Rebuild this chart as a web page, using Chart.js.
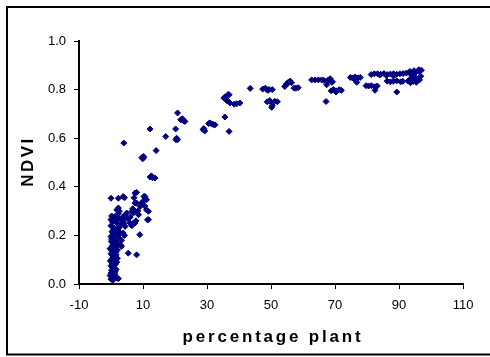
<!DOCTYPE html>
<html>
<head>
<meta charset="utf-8">
<script src="https://cdn.jsdelivr.net/npm/chart.js@4/dist/chart.umd.min.js"></script>
<style>
  html, body { margin: 0; padding: 0; background: #fff; }
  #wrap { width: 490px; height: 357px; }
</style>
</head>
<body>
<div id="wrap"><canvas id="ndviChart" width="490" height="357"></canvas></div>
<script>
// plant cover (%) against NDVI, one entry per sample
var plantPct = [
    0, 0.3, 0.6, 0, 0.4, 0, 0.5, 0.2, 0.6, 0, 0.4, 0.8, 0.1, 0.5, 0.9, 0.2, 0.7, 0, 1.2, 0.3, 0.8, 0, 0.5, 0, 1, 1.5, 0,
    -0.3, 0.2, -0.2, 0.3, -0.3, 0.1, 0.6, 1.0, 0.9, 0.4, 1.3, 0.2,
    1.8, 2.3, 1.2, 1.6, 1.3, 1.8, 1.1, 1.5, 2.0, 1.7, 2.2, 1.4, 2.5, 1.9, 2.8, 2.2, 3.3, 3.0, 2.6, 3.3, 1.9, 2.7, 1.25, 2.3, 1.8, 2.3, 2.6, 2.3, 3.8, 4.2,
    1.6, 2.0, 2.4, 1.3, 3.6, 4.0,
    3.3, 3.8, 4.4, 4.0, 4.9, 5.2, 5.9, 6.5, 7.5, 7.0, 6.5, 7.8, 3.8, 4.2, 3.3, 5.4, 8.0, 9.0, 7.0, 7.5, 7.5, 8.0, 7.2, 8.0, 6.8, 8.4, 8.6, 9.1, 9.6, 10.6,
    10.3, 10.8, 11.1, 10.6, 11.1, 11.7, 11.4, 11.7, 4.0, 6.0, 7.4, 10.0,
    9.6, 10.2, 9.9, 10.2, 12.2, 12.6, 13.0, 13.75, 12.2, 14.1, 17.1, 20.2, 20.3, 20.8, 20.5, 20.8, 21.8, 22.3, 23.1, 22.6,
    28.8, 29.3, 29.0, 30.5, 31.0, 31.5, 32.0, 32.5, 35.6, 36.9,
    35.3, 35.6, 36.0, 36.9, 36.6, 36.7, 37.2, 38.5, 39.3, 40.3, 36.2, 43.5,
    47.4, 48.2, 48.6, 49.4, 50.4, 49.0,
    48.8, 49.6, 50.2, 51.2, 52.0, 50.4, 50.2,
    54.3, 54.7, 55.4, 56.0, 55.0, 56.4, 57.2, 57.8, 58.5,
    62.7, 63.75, 64.8, 65.8, 66.5, 67.4, 67.9, 68.5, 69.0, 67.4, 69.2,
    68.8, 69.5, 70.3, 71.3, 72.0, 70.3, 67.2,
    74.8, 75.5, 76.25, 77.2, 77.9, 76.8, 76.3,
    79.7, 80.5, 81.4, 82.5, 83.2, 82.5,
    81.3, 82.3, 83.3, 84.3, 85.3, 86.3, 87.3, 88.3, 89.3, 90.3, 91.3, 92.3, 93.3, 94.3, 95.3, 96.3, 97.0, 96.2, 93.4, 94.7, 84, 86, 88.3,
    86.3, 87.3, 88.2, 89.3, 90.5, 91.2, 89.3,
    92.8, 93.6, 94.5, 95.4, 96.4, 93.6, 95.2, 96.8, 94.2
];
var ndvi = [
    0.02, 0.03, 0.015, 0.045, 0.06, 0.075, 0.085, 0.10, 0.11, 0.125, 0.135, 0.14, 0.15, 0.16, 0.17, 0.185, 0.19, 0.195, 0.2, 0.215, 0.225, 0.24, 0.255, 0.265, 0.27, 0.26, 0.353,
    0.035, 0.055, 0.095, 0.12, 0.145, 0.175, 0.205, 0.23, 0.1, 0.07, 0.05, 0.28,
    0.025, 0.022, 0.04, 0.06, 0.08, 0.09, 0.115, 0.13, 0.14, 0.155, 0.165, 0.175, 0.19, 0.2, 0.21, 0.22, 0.18, 0.16, 0.235, 0.245, 0.25, 0.27, 0.278, 0.29, 0.305, 0.313, 0.3, 0.353, 0.36, 0.355,
    0.12, 0.105, 0.23, 0.21, 0.27, 0.25,
    0.265, 0.258, 0.237, 0.28, 0.292, 0.27, 0.251, 0.299, 0.251, 0.25, 0.24, 0.26, 0.21, 0.2, 0.155, 0.127, 0.12, 0.203, 0.292, 0.333, 0.374, 0.377, 0.355, 0.333, 0.31, 0.30, 0.285, 0.319, 0.333, 0.32,
    0.36, 0.35, 0.347, 0.36, 0.305, 0.299, 0.264, 0.265, 0.58, 0.275, 0.3, 0.34,
    0.52, 0.52, 0.515, 0.525, 0.44, 0.445, 0.437, 0.436, 0.638, 0.549, 0.607, 0.638, 0.594, 0.594, 0.6, 0.704, 0.676, 0.68, 0.669, 0.672,
    0.635, 0.63, 0.64, 0.66, 0.663, 0.658, 0.656, 0.655, 0.687, 0.628,
    0.765, 0.77, 0.76, 0.779, 0.78, 0.751, 0.745, 0.74, 0.742, 0.745, 0.755, 0.805,
    0.802, 0.806, 0.802, 0.800, 0.80, 0.797,
    0.75, 0.755, 0.747, 0.752, 0.75, 0.735, 0.727,
    0.813, 0.818, 0.83, 0.835, 0.825, 0.828, 0.806, 0.806, 0.808,
    0.84, 0.84, 0.84, 0.84, 0.838, 0.835, 0.84, 0.845, 0.83, 0.82, 0.832,
    0.795, 0.80, 0.795, 0.8, 0.797, 0.79, 0.751,
    0.85, 0.848, 0.852, 0.848, 0.85, 0.83, 0.84,
    0.816, 0.815, 0.816, 0.812, 0.815, 0.797,
    0.862, 0.865, 0.865, 0.863, 0.866, 0.862, 0.864, 0.865, 0.863, 0.865, 0.866, 0.868, 0.868, 0.87, 0.872, 0.875, 0.88, 0.882, 0.875, 0.878, 0.86, 0.858, 0.856,
    0.835, 0.832, 0.834, 0.836, 0.832, 0.834, 0.79,
    0.835, 0.828, 0.834, 0.83, 0.84, 0.845, 0.85, 0.855, 0.86
];

var xTitle = "percentage plant";
var yTitle = "NDVI";

var points = plantPct.map(function (x, i) { return { x: x, y: ndvi[i] }; });

var navy = "#000080";
var tickFont = { family: "'Liberation Sans', Arial, sans-serif", size: 13 };

// outer frame and letter-spaced axis titles
var frameAndTitles = {
    id: "frameAndTitles",
    afterDraw: function (chart) {
        var ctx = chart.ctx;
        var area = chart.chartArea;
        ctx.save();
        ctx.strokeStyle = "#000";
        ctx.lineWidth = 2;
        ctx.beginPath();
        ctx.moveTo(492, 7);
        ctx.lineTo(7, 7);
        ctx.lineTo(7, 354.5);
        ctx.lineTo(492, 354.5);
        ctx.stroke();

        ctx.fillStyle = "#000";
        ctx.font = "bold 17px 'Liberation Sans', Arial, sans-serif";
        ctx.letterSpacing = "2.8px";
        ctx.textAlign = "center";
        ctx.textBaseline = "alphabetic";
        ctx.fillText(xTitle, (area.left + area.right) / 2 + 2, 342);

        ctx.letterSpacing = "2.5px";
        ctx.translate(33, (area.top + area.bottom) / 2);
        ctx.rotate(-Math.PI / 2);
        ctx.fillText(yTitle, 1, 0);
        ctx.restore();
    }
};

new Chart(document.getElementById("ndviChart").getContext("2d"),
    {
        type: 'scatter',
        data: {
            datasets: [
                {
                    data: points,
                    pointStyle: 'rectRot',
                    pointRadius: 3,
                    pointBorderWidth: 1,
                    backgroundColor: navy,
                    borderColor: navy
                }]
        },
        options: {
            responsive: false,
            animation: false,
            layout: { padding: { left: 0, right: 27, top: 41, bottom: 0 } },
            plugins: {
                legend: { display: false },
                tooltip: { enabled: false }
            },
            scales: {
                x: {
                    type: 'linear',
                    min: -10,
                    max: 110,
                    afterFit: function (scale) { scale.height = 73; },
                    ticks: { stepSize: 20, color: "#000", font: tickFont, padding: 9, maxRotation: 0 },
                    grid: { drawOnChartArea: false, tickLength: 5, color: "#000", lineWidth: 1 },
                    border: { display: true, color: "#000", width: 2 }
                },
                y: {
                    min: 0,
                    max: 1,
                    afterFit: function (scale) { scale.width = 79; },
                    ticks: {
                        stepSize: 0.2,
                        color: "#000",
                        font: tickFont,
                        padding: 8,
                        callback: function (v) { return v.toFixed(1); }
                    },
                    grid: { drawOnChartArea: false, tickLength: 5, color: "#000", lineWidth: 1 },
                    border: { display: true, color: "#000", width: 2 }
                }
            }
        },
        plugins: [frameAndTitles]
    });
</script>
</body>
</html>
